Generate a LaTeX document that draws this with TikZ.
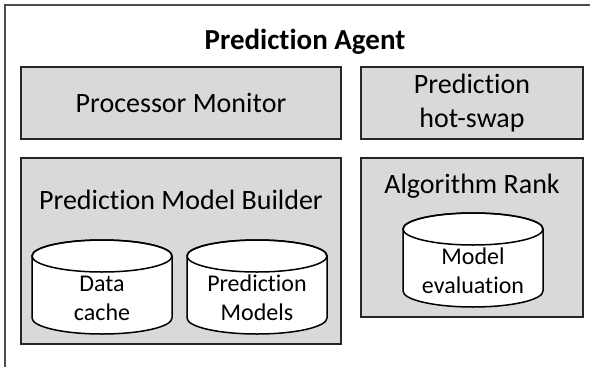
\documentclass[tikz,border=0pt]{standalone}
\usepackage{fontspec}
\setmainfont{Carlito}[Ligatures=NoCommon]
\usepackage{xcolor}
\usetikzlibrary{positioning}
\tikzset{
  pa module/.style={
    rectangle,
    draw=black!85,
    line width=1.5pt,
    fill=black!15,
    inner sep=0pt,
    font=\fontsize{28}{34}\selectfont,
    align=center,
  },
  pa drum/.style={
    draw=black,
    line width=1.5pt,
    fill=white,
  },
  pa store/.style={
    inner sep=0pt,
    font=\fontsize{24}{29}\selectfont,
    align=center,
  },
  pa heading/.style={
    font=\fontsize{28}{34}\selectfont,
    inner sep=0pt,
  },
}
% drum (cylinder) drawn round a coordinate that is the centre of its text
\newcommand{\padrum}[1]{%
  \filldraw[pa drum] ([shift={(-70,-42)}]#1) -- ([shift={(-70,20)}]#1)
    arc[start angle=180,end angle=0,x radius=70,y radius=16]
    -- ([shift={(70,-42)}]#1)
    arc[start angle=0,end angle=-180,x radius=70,y radius=16] -- cycle;
  \draw[pa drum,fill=none] ([shift={(0,-42)}]#1) ellipse[x radius=70,y radius=16];
}

\begin{document}
\begin{tikzpicture}[x=1pt,y=-1pt]
  \useasboundingbox (0,0) rectangle (600,367);

  % frame of the agent (cut off right and below)
  \draw[line width=1.5pt,black!70] (5,367) -- (5,5) -- (590,5);
  \node[pa heading,font=\bfseries\fontsize{29}{34}\selectfont] (agent) at (305,42) {Prediction Agent};

  % top row
  \node[pa module,minimum width=320pt,minimum height=72pt] (monitor) at (181,103) {Processor Monitor};
  \node[pa module,minimum width=222pt,minimum height=72pt] (swap) at (472,103) {Prediction\\hot-swap};

  % bottom row
  \node[pa module,minimum width=320pt,minimum height=186pt] (builder) at (181,251) {};
  \node[pa heading] (buildertitle) at (181,200) {Prediction Model Builder};
  \coordinate (cachepos) at (102,298);
  \coordinate (modelspos) at (257,298);
  \padrum{cachepos}
  \padrum{modelspos}
  \node[pa store] (cache) at (cachepos) {Data\\cache};
  \node[pa store] (models) at (modelspos) {Prediction\\Models};

  \node[pa module,minimum width=222pt,minimum height=159pt] (rank) at (472,237.5) {};
  \node[pa heading] (ranktitle) at (472,186) {Algorithm Rank};
  \coordinate (evalpos) at (473,271);
  \padrum{evalpos}
  \node[pa store] (evaluation) at (evalpos) {Model\\evaluation};
\end{tikzpicture}
\end{document}
